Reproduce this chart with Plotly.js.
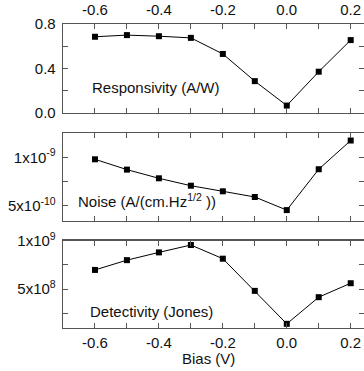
<!DOCTYPE html>
<html>
<head>
<meta charset="utf-8">
<script src="https://cdn.plot.ly/plotly-3.0.1.min.js"></script>
<style>html,body{margin:0;padding:0;background:#fff;overflow:hidden}</style>
</head>
<body>
<div id="chart" style="width:364px;height:371px"></div>
<script>
const bias = [-0.6, -0.5, -0.4, -0.3, -0.2, -0.1, 0.0, 0.1, 0.2];
const responsivity = [0.685, 0.70, 0.69, 0.675, 0.53, 0.285, 0.065, 0.37, 0.655];
const noise = [0.98e-9, 0.873e-9, 0.783e-9, 0.706e-9, 0.648e-9, 0.589e-9, 0.453e-9, 0.877e-9, 1.175e-9];
const detectivity = [6.99e8, 8.0e8, 8.8e8, 9.56e8, 8.15e8, 4.83e8, 1.43e8, 4.18e8, 5.62e8];

const xTickVals = [-0.6, -0.4, -0.2, 0.0, 0.2];
const xTickText = ['-0.6', '-0.4', '-0.2', '0.0', '0.2'];
const xMinorVals = [-0.5, -0.3, -0.1, 0.1];
const respTickVals = [0, 0.4, 0.8];
const respTickText = ['0.0', '0.4', '0.8'];
const respMinorVals = [0.2, 0.6];
const noiseTickVals = [5e-10, 1e-9];
const noiseTickText = ['5x10<sup>-10</sup>', '1x10<sup>-9</sup>'];
const noiseMinorVals = [7.5e-10];
const detTickVals = [5e8, 1e9];
const detTickText = ['5x10<sup>8</sup>', '1x10<sup>9</sup>'];
const detMinorVals = [2.5e8, 7.5e8];

const FONT = {family: 'Liberation Sans, Arial, sans-serif', size: 15, color: '#111'};
const lineStyle = {color: '#000', width: 1};
const markerStyle = {symbol: 'square', size: 6, color: '#000'};

function trace(y, xa, ya) {
  return {x: bias, y: y, xaxis: xa, yaxis: ya, type: 'scatter', mode: 'lines+markers',
    line: lineStyle, marker: markerStyle, showlegend: false, hoverinfo: 'none', cliponaxis: false};
}
function minor(vals) {
  return {tickmode: 'array', tickvals: vals, ticks: 'inside', ticklen: 5, tickwidth: 1, tickcolor: '#555', showgrid: false};
}

const xBase = {
  range: [-0.7, 0.2416], tickmode: 'array', tickvals: xTickVals, ticktext: xTickText,
  minor: minor(xMinorVals),
  ticks: 'inside', ticklen: 5, tickwidth: 1, tickcolor: '#555',
  showline: true, linecolor: '#555', linewidth: 1.3, mirror: 'ticks',
  showgrid: false, zeroline: false, tickfont: FONT
};
const yBase = {
  tickmode: 'array', ticks: 'inside', ticklen: 5, tickwidth: 1, tickcolor: '#555',
  showline: true, linecolor: '#555', linewidth: 1.3, mirror: 'ticks',
  showgrid: false, zeroline: false, tickfont: FONT, ticklabelstandoff: 3
};

const layout = {
  width: 364, height: 371,
  margin: {l: 63, r: 0, t: 24, b: 43},
  paper_bgcolor: '#fff', plot_bgcolor: '#fff',
  font: FONT,
  xaxis: Object.assign({}, xBase, {anchor: 'y', domain: [0, 1], ticklabelstandoff: 1}),
  yaxis: Object.assign({}, yBase, {anchor: 'x', domain: [0, 0.287], range: [1e8, 1e9],
    tickvals: detTickVals, ticktext: detTickText, minor: minor(detMinorVals)}),
  xaxis2: Object.assign({}, xBase, {anchor: 'y2', domain: [0, 1], showticklabels: false}),
  yaxis2: Object.assign({}, yBase, {anchor: 'x2', domain: [0.3536, 0.6405], range: [3.45e-10, 1.25e-9],
    tickvals: noiseTickVals, ticktext: noiseTickText, minor: minor(noiseMinorVals)}),
  xaxis3: Object.assign({}, xBase, {anchor: 'y3', domain: [0, 1], side: 'top', ticklabelstandoff: 2}),
  yaxis3: Object.assign({}, yBase, {anchor: 'x3', domain: [0.708, 1], range: [0, 0.8],
    tickvals: respTickVals, ticktext: respTickText, minor: minor(respMinorVals)}),
  annotations: [
    {text: 'Responsivity (A/W)', xref: 'x3', yref: 'y3', x: -0.615, y: 0.224,
     xanchor: 'left', yanchor: 'middle', showarrow: false, font: FONT},
    {text: 'Noise (A/(cm.Hz<sup>1/2</sup> ))', xref: 'x2', yref: 'y2', x: -0.658, y: 5.5e-10,
     xanchor: 'left', yanchor: 'middle', showarrow: false, font: FONT},
    {text: 'Detectivity (Jones)', xref: 'x', yref: 'y', x: -0.621, y: 2.70e8,
     xanchor: 'left', yanchor: 'middle', showarrow: false, font: FONT},
    {text: 'Bias (V)', xref: 'paper', yref: 'paper', x: 0.482, y: -0.0987,
     xanchor: 'center', yanchor: 'middle', showarrow: false, font: FONT}
  ]
};

Plotly.newPlot('chart', [
  trace(responsivity, 'x3', 'y3'),
  trace(noise, 'x2', 'y2'),
  trace(detectivity, 'x', 'y')
], layout, {staticPlot: true, displayModeBar: false}).then(function (gd) {
  // drop empty placeholder text nodes and Plotly's off-screen measuring svg
  document.querySelectorAll('text').forEach(function (t) {
    if (!t.textContent.trim()) t.remove();
  });
  document.querySelectorAll('body > svg').forEach(function (s) {
    if (!gd.contains(s)) s.remove();
  });
});
</script>
</body>
</html>
